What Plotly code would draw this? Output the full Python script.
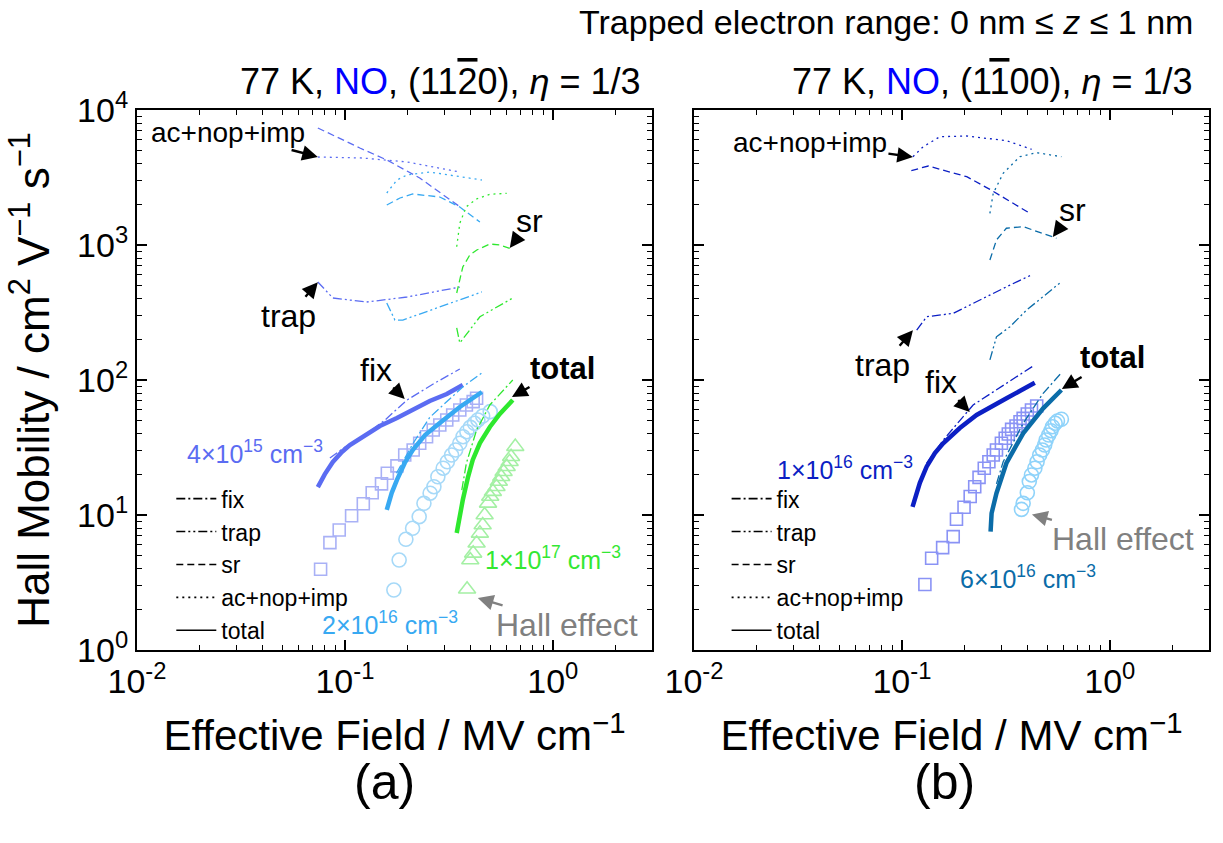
import numpy as np
import plotly.graph_objects as go

# ---------------- panel (a): 77 K, NO, (11-20) ----------------
# N_A = 4x10^15 cm^-3
A1_TOTAL_X = [0.0741, 0.0801, 0.0875, 0.0967, 0.1057, 0.1248, 0.1473, 0.178, 0.217, 0.256, 0.309, 0.369]
A1_TOTAL_Y = [16.1, 20.1, 24.7, 29.3, 33.0, 39.1, 45.6, 52.3, 61.0, 69.9, 78.7, 91.8]
A1_FIX_X = [0.0847, 0.100, 0.122, 0.156, 0.199, 0.271, 0.357]
A1_FIX_Y = [26.4, 31.9, 37.8, 50.6, 71.1, 95.0, 120.6]
A1_TRAP_X = [0.0741, 0.0875, 0.127, 0.199, 0.357]
A1_TRAP_Y = [532, 405, 378, 412, 488]
A1_SR_X = [0.0741, 0.118, 0.159, 0.229, 0.357]
A1_SR_Y = [7360, 5230, 4266, 3135, 1920]
A1_AMB_X = [0.0741, 0.122, 0.199, 0.357]
A1_AMB_Y = [4487, 4409, 4121, 3472]
A1_HALL_X = [0.0764, 0.0847, 0.0939, 0.1077, 0.1226, 0.1353, 0.150, 0.160, 0.178, 0.194, 0.213,
             0.229, 0.247, 0.266, 0.286, 0.309, 0.330, 0.357, 0.384, 0.414, 0.430]
A1_HALL_Y = [3.96, 6.24, 7.74, 9.88, 12.1, 14.6, 17.0, 20.4, 23.1, 27.8, 30.3,
             34.0, 38.0, 42.6, 46.4, 50.6, 55.1, 59.9, 65.3, 69.1, 73.2]

# N_A = 2x10^16 cm^-3
A2_TOTAL_X = [0.159, 0.168, 0.178, 0.194, 0.212, 0.243, 0.286, 0.357, 0.456]
A2_TOTAL_Y = [10.9, 14.6, 18.2, 24.3, 30.3, 39.1, 48.0, 63.1, 81.5]
A2_FIX_X = [0.177, 0.213, 0.256, 0.320, 0.370, 0.455]
A2_FIX_Y = [20.4, 34.0, 52.9, 73.2, 89.1, 112.5]
A2_TRAP_X = [0.159, 0.174, 0.190, 0.286, 0.456]
A2_TRAP_Y = [372, 278, 278, 347, 449]
A2_SR_X = [0.159, 0.184, 0.212, 0.286, 0.357, 0.446]
A2_SR_Y = [1978, 2230, 2388, 2267, 1911, 1480]
A2_AMB_X = [0.159, 0.178, 0.199, 0.256, 0.456]
A2_AMB_Y = [2428, 3030, 3301, 3472, 3030]
A2_HALL_X = [0.172, 0.1824, 0.1965, 0.2116, 0.2277, 0.240, 0.257, 0.268, 0.280, 0.297, 0.311,
             0.326, 0.341, 0.357, 0.370, 0.386, 0.401, 0.420, 0.436, 0.460, 0.500]
A2_HALL_Y = [2.78, 4.64, 6.61, 7.97, 9.72, 12.2, 14.5, 16.2, 19.2, 22.2, 24.8,
             27.8, 30.3, 34.0, 38.0, 41.4, 44.6, 47.8, 50.6, 54.1, 58.3]

# N_A = 1x10^17 cm^-3
A3_TOTAL_X = [0.345, 0.357, 0.369, 0.390, 0.412, 0.446, 0.498, 0.556, 0.642]
A3_TOTAL_Y = [7.36, 10.0, 12.9, 18.8, 25.6, 34.1, 44.9, 56.0, 71.1]
A3_FIX_X = [0.365, 0.384, 0.430, 0.498, 0.642]
A3_FIX_Y = [15.3, 24.2, 42.6, 65.3, 100.0]
A3_TRAP_X = [0.345, 0.357, 0.446, 0.642]
A3_TRAP_Y = [243, 188, 294, 405]
A3_SR_X = [0.345, 0.369, 0.399, 0.431, 0.498, 0.556, 0.635]
A3_SR_Y = [441, 687, 844, 918, 1017, 1000, 934]
A3_AMB_X = [0.345, 0.357, 0.384, 0.430, 0.498, 0.600]
A3_AMB_Y = [971, 1448, 1923, 2193, 2375, 2415]
A3_HALL_X = [0.387, 0.401, 0.414, 0.430, 0.446, 0.460, 0.470, 0.488, 0.500, 0.515, 0.536,
             0.550, 0.565, 0.580, 0.600, 0.620, 0.630, 0.660]
A3_HALL_Y = [2.82, 4.64, 5.2, 6.17, 7.31, 8.43, 10.0, 12.2, 13.7, 14.9, 16.2,
             17.7, 19.2, 20.9, 22.8, 24.8, 27.0, 32.1]

# ---------------- panel (b): 77 K, NO, (1-100) ----------------
# N_A = 1x10^16 cm^-3
B1_TOTAL_X = [0.1125, 0.122, 0.1315, 0.1441, 0.158, 0.190, 0.2287, 0.265, 0.3187, 0.369, 0.4357]
B1_TOTAL_Y = [11.5, 17.3, 22.8, 28.8, 34.0, 44.1, 55.1, 63.1, 73.2, 82.9, 95.5]
B1_FIX_X = [0.1315, 0.158, 0.220, 0.307, 0.428]
B1_FIX_Y = [24.2, 35.9, 65.3, 91.8, 127.0]
B1_TRAP_X = [0.1178, 0.1315, 0.1765, 0.246, 0.285, 0.331, 0.420]
B1_TRAP_Y = [234, 294, 312, 403, 451, 505, 600]
B1_SR_X = [0.111, 0.134, 0.205, 0.265, 0.412]
B1_SR_Y = [3556, 3846, 3206, 2583, 1718]
B1_AMB_X = [0.113, 0.1266, 0.1523, 0.2046, 0.3187, 0.4205]
B1_AMB_Y = [4508, 5346, 6343, 6417, 5926, 5115]
B1_HALL_X = [0.129, 0.139, 0.157, 0.1765, 0.183, 0.199, 0.213, 0.224, 0.235, 0.249, 0.262, 0.275,
             0.285, 0.301, 0.314, 0.325, 0.337, 0.354, 0.370, 0.383, 0.401, 0.420, 0.445]
B1_HALL_Y = [3.06, 4.78, 5.73, 6.91, 9.29, 11.4, 13.7, 16.2, 19.0, 22.2, 24.8, 27.8,
             30.3, 34.0, 37.0, 39.8, 43.1, 45.6, 49.1, 52.0, 56.0, 59.9, 64.2]

# N_A = 6x10^16 cm^-3
B2_TOTAL_X = [0.267, 0.270, 0.285, 0.301, 0.318, 0.383, 0.478, 0.585]
B2_TOTAL_Y = [7.52, 10.3, 14.5, 19.2, 24.2, 40.3, 61.7, 84.3]
B2_FIX_X = [0.285, 0.307, 0.383, 0.478, 0.585]
B2_FIX_Y = [17.0, 24.8, 47.8, 79.7, 113.0]
B2_TRAP_X = [0.265, 0.285, 0.331, 0.398, 0.478, 0.585]
B2_TRAP_Y = [141, 209, 248, 330, 414, 535]
B2_SR_X = [0.265, 0.285, 0.318, 0.383, 0.554]
B2_SR_Y = [774, 1089, 1331, 1368, 1122]
B2_AMB_X = [0.265, 0.275, 0.307, 0.369, 0.445, 0.585]
B2_AMB_Y = [1718, 2415, 3396, 4508, 4830, 4508]
B2_HALL_X = [0.376, 0.383, 0.401, 0.410, 0.420, 0.436, 0.447, 0.460, 0.474, 0.486, 0.494,
             0.508, 0.521, 0.530, 0.546, 0.560, 0.585]
B2_HALL_Y = [11.0, 12.2, 14.6, 17.7, 19.8, 22.2, 24.8, 27.8, 30.3, 33.0, 35.9,
             39.1, 42.1, 45.1, 47.8, 49.7, 51.2]

# axis tick labels
X_TICKS = [0.01, 0.1, 1]
X_TICKTEXT = ["10<sup>-2</sup>", "10<sup>-1</sup>", "10<sup>0</sup>"]
Y_TICKS = [1, 10, 100, 1000, 10000]
Y_TICKTEXT = ["10<sup>0</sup>", "10<sup>1</sup>", "10<sup>2</sup>", "10<sup>3</sup>", "10<sup>4</sup>"]

COMPONENTS = ["fix", "trap", "sr", "ac+nop+imp", "total"]

# ---------------- styles ----------------
FONT = "Liberation Sans, Arial, Helvetica, sans-serif"
DASH = {
    "fix": "9px,3px,2px,3px",
    "trap": "9px,3px,2px,3px,2px,3px",
    "sr": "7px,4px",
    "ac+nop+imp": "2px,4px",
    "total": "solid",
}
C_A1, C_A2, C_A3 = "#5b6cf2", "#38a9f2", "#2ee82e"
C_B1, C_B2 = "#0c1fc4", "#0b6ca8"
M_A1, M_A2, M_A3 = "#a9b1f6", "#a6d9f8", "#a4f0a4"
M_B1, M_B2 = "#8a93f5", "#8fd3fa"

fig = go.Figure()


def add_hall(xs, ys, color, symbol, size, axis):
    fig.add_trace(go.Scatter(
        x=xs, y=ys, mode="markers", showlegend=False,
        marker=dict(symbol=symbol, size=size, color=color, line=dict(color=color, width=1.6)),
        xaxis=axis[0], yaxis=axis[1]))


def add_set(curves, color, axis):
    for name, (xs, ys) in curves.items():
        fig.add_trace(go.Scatter(
            x=xs, y=ys, mode="lines", showlegend=False,
            line=dict(color=color, width=4.5 if name == "total" else 1.3, dash=DASH[name]),
            xaxis=axis[0], yaxis=axis[1]))


AX_A = ("x", "y")
AX_B = ("x2", "y2")

# Hall-effect measurements (drawn beneath the calculated curves)
add_hall(A1_HALL_X, A1_HALL_Y, M_A1, "square-open", 12, AX_A)
add_hall(A2_HALL_X, A2_HALL_Y, M_A2, "circle-open", 14, AX_A)
add_hall(A3_HALL_X, A3_HALL_Y, M_A3, "triangle-up-open", 15, AX_A)
add_hall(B1_HALL_X, B1_HALL_Y, M_B1, "square-open", 12, AX_B)
add_hall(B2_HALL_X, B2_HALL_Y, M_B2, "circle-open", 14, AX_B)

# calculated mobility components
add_set({"sr": (A1_SR_X, A1_SR_Y), "ac+nop+imp": (A1_AMB_X, A1_AMB_Y), "trap": (A1_TRAP_X, A1_TRAP_Y),
         "fix": (A1_FIX_X, A1_FIX_Y), "total": (A1_TOTAL_X, A1_TOTAL_Y)}, C_A1, AX_A)
add_set({"sr": (A2_SR_X, A2_SR_Y), "ac+nop+imp": (A2_AMB_X, A2_AMB_Y), "trap": (A2_TRAP_X, A2_TRAP_Y),
         "fix": (A2_FIX_X, A2_FIX_Y), "total": (A2_TOTAL_X, A2_TOTAL_Y)}, C_A2, AX_A)
add_set({"sr": (A3_SR_X, A3_SR_Y), "ac+nop+imp": (A3_AMB_X, A3_AMB_Y), "trap": (A3_TRAP_X, A3_TRAP_Y),
         "fix": (A3_FIX_X, A3_FIX_Y), "total": (A3_TOTAL_X, A3_TOTAL_Y)}, C_A3, AX_A)
add_set({"sr": (B1_SR_X, B1_SR_Y), "ac+nop+imp": (B1_AMB_X, B1_AMB_Y), "trap": (B1_TRAP_X, B1_TRAP_Y),
         "fix": (B1_FIX_X, B1_FIX_Y), "total": (B1_TOTAL_X, B1_TOTAL_Y)}, C_B1, AX_B)
add_set({"sr": (B2_SR_X, B2_SR_Y), "ac+nop+imp": (B2_AMB_X, B2_AMB_Y), "trap": (B2_TRAP_X, B2_TRAP_Y),
         "fix": (B2_FIX_X, B2_FIX_Y), "total": (B2_TOTAL_X, B2_TOTAL_Y)}, C_B2, AX_B)

# line-style keys, one legend per panel
for leg, axis in (("legend", AX_A), ("legend2", AX_B)):
    for name in COMPONENTS:
        fig.add_trace(go.Scatter(
            x=[None], y=[None], mode="lines", name=name, legend=leg,
            line=dict(color="black", width=1.6, dash=DASH[name]),
            xaxis=axis[0], yaxis=axis[1]))

# ---------------- axes ----------------
common_x = dict(
    type="log", range=[-2, np.log10(3)], tickmode="array", tickvals=X_TICKS, ticktext=X_TICKTEXT,
    ticks="inside", ticklen=10, tickwidth=1.6, tickcolor="black",
    minor=dict(ticks="inside", ticklen=5, tickwidth=1.3, tickcolor="black", dtick="D1", showgrid=False),
    showline=True, linewidth=2, linecolor="black", mirror="allticks",
    showgrid=False, zeroline=False, tickfont=dict(size=34, color="black"),
    title=dict(text="Effective Field / MV cm<sup>\u22121</sup>", font=dict(size=42, color="black"), standoff=22),
)
common_y = dict(
    type="log", range=[0, 4], tickmode="array", tickvals=Y_TICKS, ticktext=Y_TICKTEXT,
    ticks="inside", ticklen=10, tickwidth=1.6, tickcolor="black",
    minor=dict(ticks="inside", ticklen=5, tickwidth=1.3, tickcolor="black", dtick="D1", showgrid=False),
    showline=True, linewidth=2, linecolor="black", mirror="allticks",
    showgrid=False, zeroline=False, tickfont=dict(size=34, color="black"),
)

fig.update_layout(
    xaxis=dict(common_x, domain=[0, 0.4804], anchor="y"),
    xaxis2=dict(common_x, domain=[0.5196, 1], anchor="y2"),
    yaxis=dict(common_y, domain=[0, 1], anchor="x",
               title=dict(text="Hall Mobility / cm<sup>2</sup> V<sup>\u22121</sup> s<sup>\u22121</sup>",
                          font=dict(size=44, color="black"), standoff=14)),
    yaxis2=dict(common_y, domain=[0, 1], anchor="x2", showticklabels=False),
)

legend_style = dict(bgcolor="rgba(0,0,0,0)", font=dict(size=23, color="black", family=FONT),
                    yanchor="top", xanchor="left", tracegroupgap=0, itemwidth=40)
fig.update_layout(
    legend=dict(legend_style, x=0.032, y=0.32),
    legend2=dict(legend_style, x=0.55, y=0.32),
)

# ---------------- annotations ----------------
ann = []


def arrow_label(text, xv, yv, ax, ay, axis, size=32, color="black", arrowcolor="black"):
    ann.append(dict(text=text, x=np.log10(xv), y=np.log10(yv), xref=axis[0], yref=axis[1],
                    ax=ax, ay=ay, showarrow=True, arrowhead=2, arrowsize=1.3, arrowwidth=2.4,
                    arrowcolor=arrowcolor, standoff=0, font=dict(size=size, color=color)))


def plain_label(text, xv, yv, axis, color, size=25):
    ann.append(dict(text=text, x=np.log10(xv), y=np.log10(yv), xref=axis[0], yref=axis[1],
                    showarrow=False, font=dict(size=size, color=color)))


arrow_label("ac+nop+imp", 0.0741, 4487, -90, -24, AX_A, size=28)
arrow_label("trap", 0.0741, 530, -29, 34, AX_A)
arrow_label("sr", 0.621, 950, 20, -27, AX_A)
arrow_label("fix", 0.194, 72.3, -29, -29, AX_A)
arrow_label("<b>total</b>", 0.636, 74.8, 51, -29, AX_A, size=31)
arrow_label("Hall effect", 0.436, 2.43, 89, 27, AX_A, color="#808080", arrowcolor="#808080")

arrow_label("ac+nop+imp", 0.113, 4487, -103, -14, AX_B, size=28)
arrow_label("sr", 0.532, 1146, 20, -27, AX_B)
arrow_label("trap", 0.113, 234, -30, 35, AX_B)
arrow_label("fix", 0.212, 57.9, -29, -30, AX_B)
arrow_label("<b>total</b>", 0.588, 85.8, 51, -31, AX_B, size=31)
arrow_label("Hall effect", 0.422, 10.1, 91, 25, AX_B, color="#808080", arrowcolor="#808080")

plain_label("4\u00d710<sup>15</sup> cm<sup>\u22123</sup>", 0.0369, 29.3, AX_A, C_A1)
plain_label("2\u00d710<sup>16</sup> cm<sup>\u22123</sup>", 0.164, 1.585, AX_A, C_A2)
plain_label("1\u00d710<sup>17</sup> cm<sup>\u22123</sup>", 1.0, 4.8, AX_A, "#33e833")
plain_label("1\u00d710<sup>16</sup> cm<sup>\u22123</sup>", 0.0532, 22.3, AX_B, C_B1)
plain_label("6\u00d710<sup>16</sup> cm<sup>\u22123</sup>", 0.404, 3.5, AX_B, C_B2)

# titles
ann.append(dict(text="Trapped electron range: 0 nm \u2264 <i>z</i> \u2264 1 nm", xref="paper", yref="paper",
                x=0.987, y=1.163, xanchor="right", yanchor="middle", showarrow=False,
                font=dict(size=34, color="black")))
ann.append(dict(text="77 K, <span style='color:#0000ff'>NO</span>, "
                     "(11<span style='text-decoration:overline'>2</span>0), <i>\u03b7</i> = 1/3",
                xref="paper", yref="paper", x=0.4716, y=1.052, xanchor="right", yanchor="middle",
                showarrow=False, font=dict(size=36, color="black")))
ann.append(dict(text="77 K, <span style='color:#0000ff'>NO</span>, "
                     "(1<span style='text-decoration:overline'>1</span>00), <i>\u03b7</i> = 1/3",
                xref="paper", yref="paper", x=0.987, y=1.052, xanchor="right", yanchor="middle",
                showarrow=False, font=dict(size=36, color="black")))
ann.append(dict(text="(a)", xref="paper", yref="paper", x=0.2313, y=-0.245, xanchor="center",
                yanchor="middle", showarrow=False, font=dict(size=50, color="black")))
ann.append(dict(text="(b)", xref="paper", yref="paper", x=0.7537, y=-0.245, xanchor="center",
                yanchor="middle", showarrow=False, font=dict(size=50, color="black")))

fig.update_layout(
    annotations=ann,
    width=1223, height=843,
    margin=dict(l=137, r=14, t=110, b=193),
    paper_bgcolor="white", plot_bgcolor="white",
    font=dict(family=FONT, color="black"),
)

fig.write_html("out.html")
